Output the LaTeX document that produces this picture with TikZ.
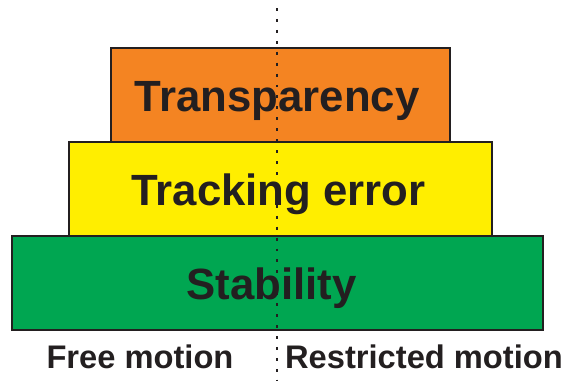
\documentclass[tikz,border=0pt]{standalone}
\usepackage{fontspec}
\setmainfont{Liberation Sans}
\usetikzlibrary{positioning}

\definecolor{layerorange}{HTML}{F48422}
\definecolor{layeryellow}{HTML}{FFEE00}
\definecolor{layergreen}{HTML}{00A651}
\definecolor{inkdark}{HTML}{231F20}

\begin{document}
\begin{tikzpicture}[x=0.75pt, y=-0.75pt, node distance=0pt, outer sep=0pt,
        layer/.style={draw=inkdark, line width=1.1pt, minimum height=70.5pt},
        word/.style={text=inkdark, text height=25pt, text depth=0pt,
            font=\fontsize{32.8}{38}\selectfont\bfseries},
        side/.style={text=inkdark, font=\fontsize{24.5}{29}\selectfont\bfseries}]
        \useasboundingbox (0,0) rectangle (565,380);

        % three stacked layers
        \node[layer, fill=layergreen, minimum width=398pt,
            label={[word, xshift=-4.5pt]center:Stability}] (stab) at (277.5,283) {};
        \node[layer, fill=layeryellow, minimum width=317pt, xshift=2.25pt,
            label={[word, xshift=-1.5pt]center:Tracking error}] (track) [above=of stab] {};
        \node[layer, fill=layerorange, minimum width=254pt,
            label={[word, xshift=-2.5pt]center:Transparency}] (trans) [above=of track] {};

        \node[side] (free)  at (140,357) {Free motion};
        \node[side] (restr) at (424,357) {Restricted motion};

        % divider
        \coordinate (top)    at (277,8);
        \coordinate (bottom) at (277,380);
        \draw[inkdark, line width=1pt, dash pattern=on 2.2pt off 6pt] (top) -- (bottom);
     \end{tikzpicture}
\end{document}
